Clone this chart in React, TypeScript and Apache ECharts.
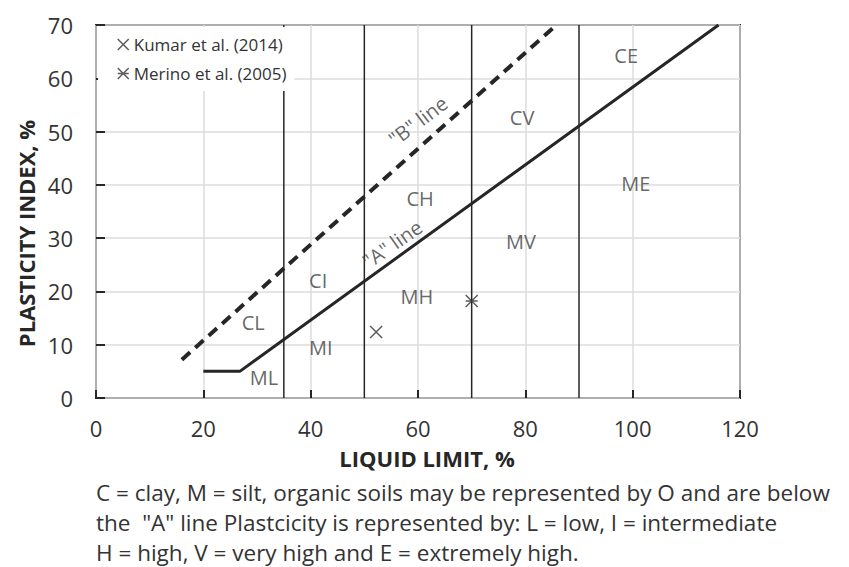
import React, { useEffect, useRef } from "react";
import * as echarts from "echarts";

// ---- data ----
const divisionLL = [35, 50, 70, 90];
const aLineLL = [20, 26.8, 116];
const aLinePI = [5, 5, 70];
const bLineLL = [16, 85.8];
const bLinePI = [7.2, 70];
const kumarLL = [52.2];
const kumarPI = [12.4];
const merinoLL = [70];
const merinoPI = [18.2];
const zoneNames = ["CL", "CI", "CH", "CV", "CE", "ML", "MI", "MH", "MV", "ME"];
const zoneLL = [29.3, 41.4, 60.4, 79.4, 98.8, 31.3, 41.9, 59.8, 79.2, 100.6];
const zonePI = [14.1, 22.1, 37.5, 52.7, 64.2, 3.8, 9.4, 19.1, 29.4, 40.2];
const lineLabelNames = ['"B" line', '"A" line'];
const lineLabelLL = [60, 55.2];
const lineLabelPI = [52, 28.9];
const lineLabelAngle = [37, 35];
const captionLines = [
  "C = clay, M = silt, organic soils may be represented by O and are below",
  'the  "A" line Plastcicity is represented by: L = low, I = intermediate',
  "H = high, V = very high and E = extremely high.",
];
const legendNames = ["Kumar et al. (2014)", "Merino et al. (2005)"];

const INK = "#262626";
const TXT = "#333333";
const FONT = "'Open Sans', 'DejaVu Sans', sans-serif";
const CROSS = "path://M0,0L10,10M10,0L0,10";
const STAR = "path://M0,0L10,10M10,0L0,10M0,5L10,5";

export default function App() {
  const ref = useRef<HTMLDivElement>(null);
  useEffect(() => {
    if (!ref.current) return;
    const chart = echarts.init(ref.current, undefined, { renderer: "svg" });

    const divisionSeries = divisionLL.map((x) => ({
      type: "line",
      silent: true,
      symbol: "none",
      data: [
        [x, 0],
        [x, 70],
      ],
      lineStyle: { color: INK, width: 1.5 },
      z: 3,
    }));

    const markerStyle = {
      color: "transparent",
      borderColor: "#333",
      borderWidth: 1.5,
    };

    chart.setOption({
      animation: false,
      backgroundColor: "#fff",
      textStyle: { fontFamily: FONT },
      grid: {
        left: 96,
        right: 109,
        top: 25,
        bottom: 169,
        show: true,
        borderColor: INK,
        borderWidth: 2,
        backgroundColor: "transparent",
      },
      xAxis: {
        type: "value",
        min: 0,
        max: 120,
        interval: 20,
        name: "LIQUID LIMIT, %",
        nameLocation: "middle",
        nameGap: 49,
        nameTextStyle: {
          fontFamily: FONT,
          fontWeight: "bold",
          fontSize: 22,
          color: INK,
          padding: [0, 0, 0, 18],
        },
        axisLine: { show: false },
        axisTick: {
          show: true,
          inside: true,
          length: 8,
          lineStyle: { color: INK, width: 2 },
        },
        axisLabel: {
          margin: 19,
          fontFamily: FONT,
          fontSize: 22,
          color: TXT,
        },
        splitLine: { show: true, lineStyle: { color: "#dcdcdc", width: 1.5 } },
      },
      yAxis: {
        type: "value",
        min: 0,
        max: 70,
        interval: 10,
        name: "PLASTICITY INDEX, %",
        nameLocation: "middle",
        nameGap: 58,
        nameTextStyle: {
          fontFamily: FONT,
          fontWeight: "bold",
          fontSize: 22,
          color: INK,
          padding: [0, 44, 0, 0],
        },
        axisLine: { show: false },
        axisTick: {
          show: true,
          inside: true,
          length: 9,
          lineStyle: { color: INK, width: 2 },
        },
        axisLabel: {
          margin: 23,
          fontFamily: FONT,
          fontSize: 22,
          color: TXT,
        },
        splitLine: { show: true, lineStyle: { color: "#dcdcdc", width: 1.5 } },
      },
      legend: {
        show: true,
        orient: "vertical",
        left: 98,
        top: 27,
        backgroundColor: "#fff",
        padding: [9, 8, 9, 19],
        itemGap: 12,
        itemWidth: 11,
        itemHeight: 11,
        textStyle: { fontFamily: FONT, fontSize: 17, color: TXT },
        data: [
          { name: legendNames[0], icon: CROSS, itemStyle: markerStyle },
          { name: legendNames[1], icon: STAR, itemStyle: markerStyle },
        ],
        selectedMode: false,
        z: 10,
      },
      graphic: [
        {
          type: "text",
          left: 96,
          top: 477,
          silent: true,
          style: {
            text: captionLines.join("\n"),
            font: `22.5px ${FONT}`,
            fill: TXT,
            lineHeight: 30,
          },
        },
      ],
      series: [
        ...divisionSeries,
        {
          type: "line",
          name: "A line",
          silent: true,
          symbol: "none",
          data: aLineLL.map((x, i) => [x, aLinePI[i]]),
          lineStyle: { color: INK, width: 3 },
          z: 4,
        },
        {
          type: "line",
          name: "B line",
          silent: true,
          symbol: "none",
          data: bLineLL.map((x, i) => [x, bLinePI[i]]),
          lineStyle: { color: INK, width: 4, type: [11, 7], cap: "butt" },
          z: 4,
        },
        {
          type: "scatter",
          name: legendNames[0],
          symbol: CROSS,
          symbolSize: 12,
          itemStyle: markerStyle,
          data: kumarLL.map((x, i) => [x, kumarPI[i]]),
          z: 5,
        },
        {
          type: "scatter",
          name: legendNames[1],
          symbol: STAR,
          symbolSize: 12,
          itemStyle: markerStyle,
          data: merinoLL.map((x, i) => [x, merinoPI[i]]),
          z: 5,
        },
        {
          type: "scatter",
          name: "zones",
          silent: true,
          symbol: "circle",
          symbolSize: 1,
          itemStyle: { color: "transparent" },
          label: {
            show: true,
            position: "inside",
            formatter: "{b}",
            fontFamily: FONT,
            fontSize: 20,
            color: "#404040",
          },
          data: zoneNames.map((n, i) => ({ name: n, value: [zoneLL[i], zonePI[i]] })),
          z: 6,
        },
        {
          type: "scatter",
          name: "line labels",
          silent: true,
          symbol: "circle",
          symbolSize: 1,
          itemStyle: { color: "transparent" },
          data: lineLabelNames.map((n, i) => ({
            name: n,
            value: [lineLabelLL[i], lineLabelPI[i]],
            label: {
              show: true,
              position: "inside",
              formatter: "{b}",
              rotate: lineLabelAngle[i],
              fontFamily: FONT,
              fontSize: 20,
              color: "#404040",
            },
          })),
          z: 6,
        },
      ],
    });
    return () => chart.dispose();
  }, []);

  return (
    <div
      ref={ref}
      style={{ position: "absolute", left: 0, top: 0, width: 849, height: 567 }}
    />
  );
}
